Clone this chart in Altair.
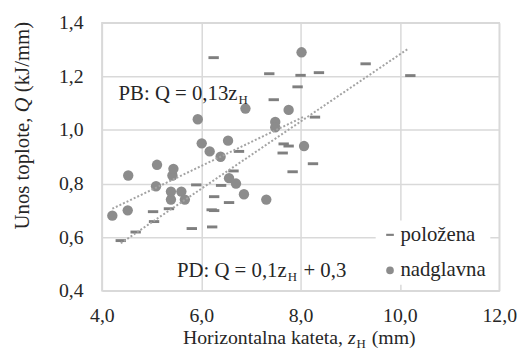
import altair as alt
import pandas as pd

FONT = "Liberation Serif"
TXT = "#262626"

# ---- data ----
series_names = ["položena", "nadglavna"]

polozena_x = [4.38, 4.68, 5.03, 5.05, 5.35, 5.81, 5.90, 6.21, 6.26, 6.22, 6.26, 6.25, 6.40, 6.56, 6.65,
              6.76, 7.37, 7.46, 7.64, 7.66, 7.76, 7.84, 7.94, 8.00, 8.25, 8.29, 8.37, 9.31, 10.21]
polozena_y = [0.587, 0.619, 0.695, 0.658, 0.706, 0.632, 0.795, 0.702, 0.699, 0.638, 0.751, 1.27, 0.793, 0.729, 0.847,
              0.92, 1.21, 1.113, 0.914, 0.948, 0.94, 0.844, 1.161, 1.204, 0.874, 1.048, 1.214, 1.247, 1.203]

nadglavna_x = [4.21, 4.52, 4.53, 5.09, 5.11, 5.39, 5.39, 5.42, 5.44, 5.60, 5.67, 5.93, 6.01, 6.17, 6.39,
               6.54, 6.56, 6.70, 6.86, 6.89, 7.31, 7.49, 7.49, 7.76, 8.02, 8.07]
nadglavna_y = [0.68, 0.70, 0.83, 0.79, 0.87, 0.74, 0.77, 0.83, 0.855, 0.77, 0.74, 1.04, 0.95, 0.92, 0.90,
               0.96, 0.82, 0.80, 0.76, 1.08, 0.74, 1.03, 1.01, 1.075, 1.29, 0.94]

trend_names = ["PB", "PD"]
trend_pb_x = [4.38, 10.18]
trend_pb_y = [0.577, 1.305]
trend_pd_x = [4.21, 8.07]
trend_pd_y = [0.706, 1.05]

x_ticks = [4, 6, 8, 10, 12]
y_ticks = [0.4, 0.6, 0.8, 1.0, 1.2, 1.4]

ann_main = ["PB: Q = 0,13z", "PD: Q = 0,1z"]
ann_sub = ["H", "H"]
ann_x = [6.73, 7.72]
ann_y = [1.112, 0.4496]
ann_tail = ["+ 0,3"]

xtitle_parts = ["Horizontalna kateta,", "z", "H", "(mm)"]
ytitle_parts = ["Unos toplote,", "Q", "(kJ/mm)"]

# ---- tables ----
df_pts = pd.DataFrame({
    "x": polozena_x + nadglavna_x,
    "y": polozena_y + nadglavna_y,
    "s": [series_names[0]] * len(polozena_x) + [series_names[1]] * len(nadglavna_x),
})
df_lines = pd.DataFrame({
    "x": trend_pb_x + trend_pd_x,
    "y": trend_pb_y + trend_pd_y,
    "line": [trend_names[0]] * 2 + [trend_names[1]] * 2,
})
df_ann = pd.DataFrame({"x": ann_x, "y": ann_y, "t": ann_main, "sub": ann_sub})
df_tail = pd.DataFrame({"x": [ann_x[1]], "y": [ann_y[1]], "t": ann_tail})

label_expr = "replace(format(datum.value, '.1f'), '.', ',')"

x_scale = alt.Scale(domain=[4, 12], nice=False)
y_scale = alt.Scale(domain=[0.4, 1.4], nice=False)

axis_common = dict(title=None, grid=True, gridColor="#d9d9d9", gridWidth=1.5, domain=False,
                   ticks=False, labelFont=FONT, labelFontSize=20, labelColor=TXT,
                   labelFlush=False, labelOverlap=False, labelExpr=label_expr)

legend = alt.Legend(title=None, orient="none", legendX=277, legendY=200, fillColor="white",
                    padding=4, labelFont=FONT, labelFontSize=21, labelColor=TXT,
                    symbolSize=60, rowPadding=14, labelOffset=0, symbolOpacity=1)

dash_path = "M-1,-0.28L1,-0.28L1,0.28L-1,0.28Z"

points = alt.Chart(df_pts).mark_point(filled=True, opacity=1, size=110).encode(
    x=alt.X("x:Q", scale=x_scale, axis=alt.Axis(values=x_ticks, labelPadding=15, **axis_common)),
    y=alt.Y("y:Q", scale=y_scale, axis=alt.Axis(values=y_ticks, labelPadding=19, **axis_common)),
    color=alt.Color("s:N", scale=alt.Scale(domain=series_names, range=["#7f7f7f", "#8c8c8c"]), legend=legend),
    shape=alt.Shape("s:N", scale=alt.Scale(domain=series_names, range=[dash_path, "circle"]), legend=legend),
)

lines = alt.Chart(df_lines).mark_line(color="#a3a3a3", strokeWidth=2, strokeDash=[2, 2]).encode(
    x="x:Q", y="y:Q", detail="line:N"
)

ann_main_layer = alt.Chart(df_ann).mark_text(
    align="right", baseline="alphabetic", font=FONT, fontSize=21, color=TXT
).encode(x="x:Q", y="y:Q", text="t:N")
ann_sub_layer = alt.Chart(df_ann).mark_text(
    align="left", baseline="alphabetic", font=FONT, fontSize=13, color=TXT, dx=1, dy=4
).encode(x="x:Q", y="y:Q", text="sub:N")
ann_tail_layer = alt.Chart(df_tail).mark_text(
    align="left", baseline="alphabetic", font=FONT, fontSize=21, color=TXT, dx=17
).encode(x="x:Q", y="y:Q", text="t:N")

def ptext(txt, x, y, align="left", size=21, italic=False, angle=0, dx=0, dy=0):
    kw = dict(align=align, baseline="alphabetic", font=FONT, fontSize=size, color=TXT)
    if italic:
        kw["fontStyle"] = "italic"
    if angle:
        kw["angle"] = angle
    if dx:
        kw["dx"] = dx
    if dy:
        kw["dy"] = dy
    return alt.Chart(pd.DataFrame({"t": [txt]})).mark_text(**kw).encode(
        text="t:N", x=alt.value(x), y=alt.value(y))

XB = 324.5  # x-title baseline (plot coords)
xt = [
    ptext(xtitle_parts[0], 244, XB, align="right", size=20),
    ptext(xtitle_parts[1], 249, XB, italic=True, size=20),
    ptext(xtitle_parts[2], 257.5, XB + 4, size=13),
    ptext(xtitle_parts[3], 273, XB, size=20),
]
yt = [
    ptext(ytitle_parts[0], -74, 209, angle=270),
    ptext(ytitle_parts[1], -74, 209, angle=270, italic=True, dx=118.4),
    ptext(ytitle_parts[2], -74, 209, angle=270, dx=138.8),
]

chart = alt.layer(points, lines, ann_main_layer, ann_sub_layer, ann_tail_layer, *xt, *yt).properties(
    width=402, height=271,
    padding={"left": 95, "top": 13, "right": 20, "bottom": 58},
    autosize=alt.AutoSizeParams(type="none"),
    background="white",
).configure_view(stroke="#d9d9d9", strokeWidth=1.5)

chart.save("out.html", embed_options={"renderer": "svg", "actions": False})
